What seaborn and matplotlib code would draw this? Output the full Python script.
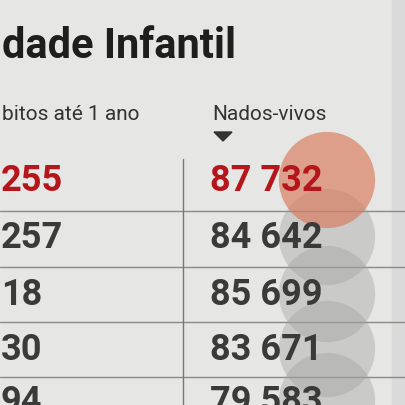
import matplotlib
matplotlib.use("Agg")
import matplotlib.pyplot as plt
import seaborn as sns
import pandas as pd

obitos_labels = ["255", "257", "18", "30", "94"]
nados_labels = ["87 732", "84 642", "85 699", "83 671", "79 583"]
nados_vals = [87732, 84642, 85699, 83671, 79583]
row_y = [181, 238, 295, 350, 402]

sns.set_theme(style="white")
plt.rcParams['font.family'] = ['Roboto', 'DejaVu Sans']
fig = plt.figure(figsize=(4.06, 4.06), dpi=100)
fig.patch.set_facecolor("#e6e6e4")
ax = fig.add_axes([0, 0, 1, 1])
ax.set_facecolor("#e6e6e4")
ax.set_xlim(0, 406); ax.set_ylim(406, 0); ax.axis("off")

df = pd.DataFrame({"x": [327]*5, "y": row_y, "v": nados_vals})
sns.scatterplot(data=df.iloc[1:], x="x", y="y", s=4800, color="#a0a0a0",
                alpha=0.4, edgecolor="none", ax=ax, legend=False, zorder=2)
sns.scatterplot(data=df.iloc[:1], x="x", y="y", s=4800, color="#d9785a",
                alpha=0.65, edgecolor="none", ax=ax, legend=False, zorder=3)
ax.axvspan(392, 406, color="#dadada", zorder=1)

ax.text(2, 46, "dade Infantil", fontsize=30, fontweight="bold", color="#1e1e1e",
        va="center", ha="left", family=["Roboto", "DejaVu Sans"])
ax.text(2, 115, "bitos até 1 ano", fontsize=15, color="#333", va="center")
ax.text(212, 115, "Nados-vivos", fontsize=15, color="#333", va="center")
ax.fill([214, 232, 223], [133, 133, 142], color="#333")
ax.plot([183, 183], [160, 406], color="#777", lw=1)
for y in [212, 268, 323, 378]:
    ax.plot([0, 406], [y, y], color="#8a8a8a", lw=1, zorder=1)
for i, y in enumerate(row_y):
    col = "#b5161b" if i == 0 else "#3a3a3a"
    ax.text(1, y, obitos_labels[i], fontsize=26, fontweight="bold", color=col, va="center", zorder=4)
    ax.text(210, y, nados_labels[i], fontsize=26, fontweight="bold", color=col, va="center", zorder=4)
fig.savefig("out.png", dpi=100, facecolor=fig.get_facecolor())
